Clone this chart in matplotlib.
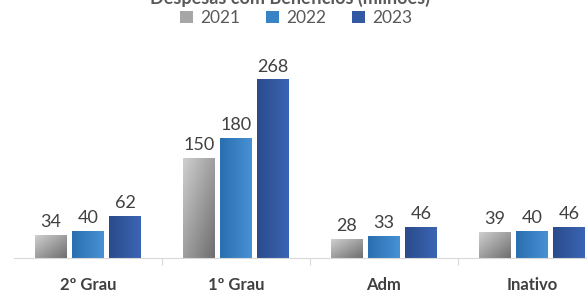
import numpy as np
import matplotlib.pyplot as plt
from matplotlib.colors import LinearSegmentedColormap
from matplotlib.patches import Patch

categorias = ['2º Grau', '1º Grau', 'Adm', 'Inativo']
anos = ['2021', '2022', '2023']
v2021 = [34, 150, 28, 39]
v2022 = [40, 180, 33, 40]
v2023 = [62, 268, 46, 46]

plt.rcParams['font.family'] = ['Lato', 'DejaVu Sans']

fig = plt.figure(figsize=(5.87, 2.92), dpi=100)
ax = fig.add_axes([14 / 587, 34 / 292, 592 / 587, 218 / 292])

# gradientes (cinza diagonal, azuis horizontais)
cmaps = [
    LinearSegmentedColormap.from_list('g', ['#cfcfcf', '#6e6e6e']),
    LinearSegmentedColormap.from_list('b', ['#2a6fb0', '#4691d4']),
    LinearSegmentedColormap.from_list('d', ['#2b4c8c', '#3a64b4']),
]
solid = ['#a6a6a6', '#3783c5', '#3259a2']

largura = 0.21
offs = [-0.25, 0, 0.25]
x = np.arange(len(categorias))
series = [v2021, v2022, v2023]

for s, vals in enumerate(series):
    bars = ax.bar(x + offs[s], vals, largura, color='none', edgecolor='none')
    for b, v in zip(bars, vals):
        x0 = b.get_x()
        x1 = x0 + b.get_width()
        if s == 0:
            gx, gy = np.meshgrid(np.linspace(0, 1, 50), np.linspace(0, 1, 50))
            grad = (gx + gy) / 2
        else:
            grad = np.tile(np.linspace(0, 1, 50), (2, 1))
        ax.imshow(grad, cmap=cmaps[s], extent=[x0, x1, 0, v], origin='upper',
                  aspect='auto', zorder=2, interpolation='bilinear')
        ax.text(x0 + b.get_width() / 2, v + 8, str(v), ha='center', va='bottom',
                fontsize=13, color='#404040')

ax.set_xlim(-0.5, 3.5)
ax.set_ylim(0, 328)

for sp in ['top', 'right', 'left']:
    ax.spines[sp].set_visible(False)
ax.spines['bottom'].set_color('#d9d9d9')
ax.set_yticks([])
ax.set_xticks([0.5, 1.5, 2.5])
ax.set_xticklabels([])
ax.tick_params(axis='x', length=5, color='#d9d9d9')
ax.set_xticks(x, minor=True)
ax.set_xticklabels(categorias, minor=True, fontsize=12, fontweight='bold', color='#404040')
ax.tick_params(axis='x', which='minor', length=0, pad=14)

fig.text(0.494, 1 - 4 / 292, 'Despesas com Benefícios (milhões)', ha='center',
         va='baseline', fontsize=13, fontweight='bold', color='#595959')

handles = [Patch(facecolor=c, edgecolor='none') for c in solid]
fig.legend(handles, anos, loc='center', bbox_to_anchor=(296 / 587, 1 - 18 / 292),
           ncol=3, frameon=False, fontsize=12.5, handlelength=0.75, handleheight=0.75,
           handletextpad=0.4, columnspacing=1.5, labelcolor='#595959')

fig.savefig('out.png', dpi=100)
